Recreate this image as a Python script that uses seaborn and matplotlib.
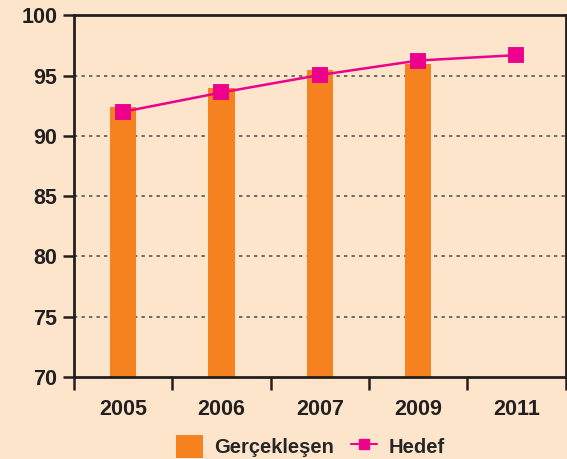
import numpy as np
import pandas as pd
import matplotlib
matplotlib.use("Agg")
import matplotlib.pyplot as plt
import seaborn as sns
from matplotlib.patches import Patch
from matplotlib.lines import Line2D

years = ["2005", "2006", "2007", "2009", "2011"]
actual_years = ["2005", "2006", "2007", "2009"]
actual = [92.4, 94.0, 95.5, 96.0]
target = [92.0, 93.6, 95.05, 96.25, 96.7]

bg = "#FDE5CB"
orange = "#F5821F"
magenta = "#EC008C"
dark = "#231F20"

sns.set_style("white")
plt.rcParams["font.family"] = ["Liberation Sans", "DejaVu Sans"]
plt.rcParams["font.weight"] = "bold"

fig = plt.figure(figsize=(5.67, 4.59), dpi=100, facecolor=bg)
ax = fig.add_axes([0.1305, 0.1786, 0.867, 0.788])
ax.set_facecolor(bg)

sns.barplot(x=actual_years, y=actual, order=years, color=orange, width=0.27,
            saturation=1, linewidth=0, ax=ax)
sns.pointplot(x=years, y=target, order=years, color=magenta, markers="s",
              markersize=10, linewidth=1.8, ax=ax)

ax.set_ylim(70, 100)
ax.set_yticks(range(70, 101, 5))
ax.set_xlim(-0.5, 4.5)
for y in range(75, 100, 5):
    ax.axhline(y, color="#555555", linestyle=(0, (2, 2.5)), linewidth=1.2, zorder=0)

ax.set_xticks(np.arange(-0.5, 4.6, 1.0), minor=False)
ax.set_xticklabels([])
ax.set_xticks(range(5), minor=True)
ax.set_xticklabels(years, minor=True)
ax.tick_params(axis="x", which="minor", bottom=False, length=0, pad=16, labelsize=15.5,
               colors=dark)
ax.tick_params(axis="x", which="major", bottom=True, direction="out", length=9,
               width=1.8, color=dark)
ax.tick_params(axis="y", left=True, direction="out", length=8, width=1.8, color=dark,
               labelsize=15.5, pad=4, labelcolor=dark)
for s in ax.spines.values():
    s.set_color(dark)
    s.set_linewidth(2)
ax.set_xlabel("")
ax.set_ylabel("")

handles = [Patch(facecolor=orange, edgecolor="none"),
           Line2D([0], [0], color=magenta, marker="s", markersize=7, linewidth=1.5)]
fig.legend(handles, ["Gerçekleşen", "Hedef"], loc="center", bbox_to_anchor=(0.548, 0.028),
           ncol=2, frameon=False, handlelength=1.3, handleheight=1.4,
           columnspacing=0.8, handletextpad=0.6,
           prop={"size": 14.5, "weight": "bold"})

fig.savefig("out.png", dpi=100, facecolor=bg)
